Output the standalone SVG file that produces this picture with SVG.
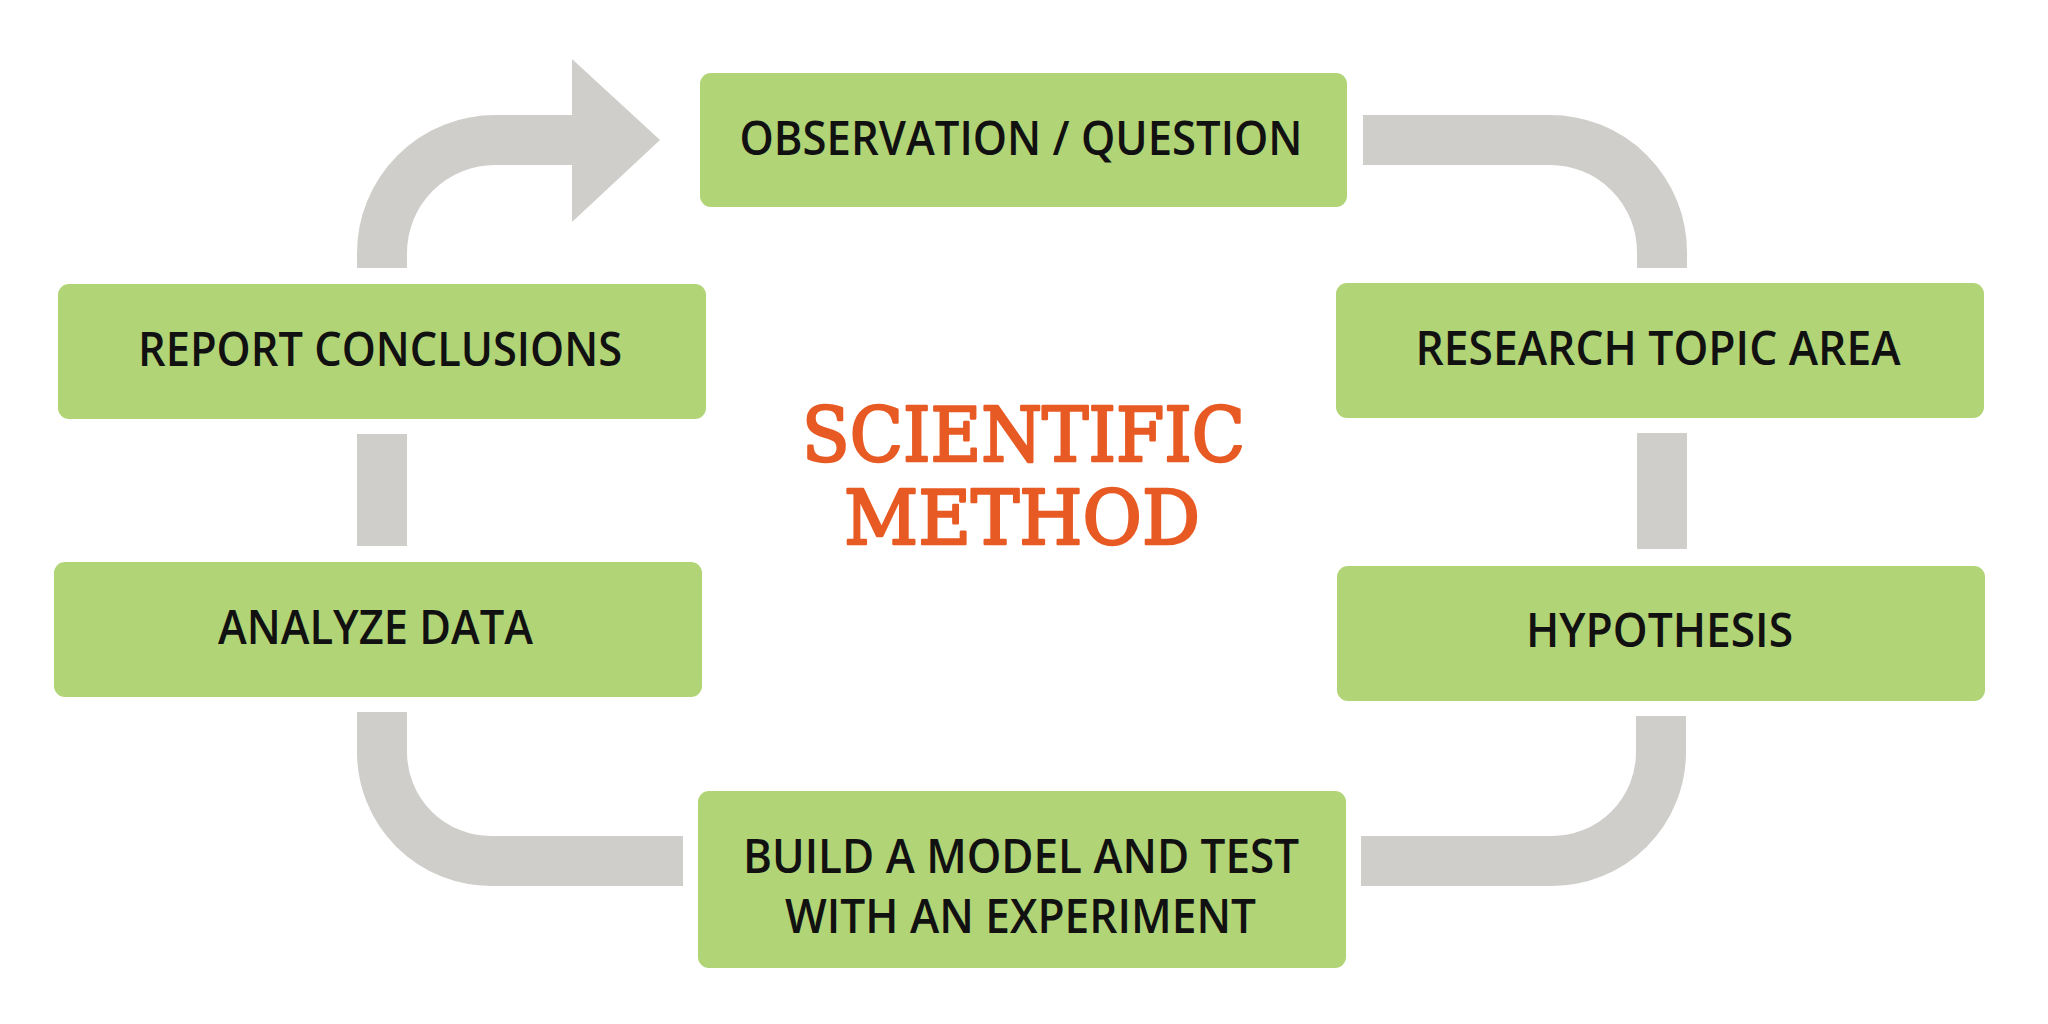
<svg xmlns="http://www.w3.org/2000/svg" width="2048" height="1024" viewBox="0 0 2048 1024">
  <style>
    .box { fill: #B1D476; }
    .lbl { font-family: "Open Sans", "Liberation Sans", sans-serif; font-weight: 600; font-size: 47px; fill: #111111; text-anchor: middle; }
    .conn { fill: none; stroke: #CFCECB; stroke-width: 50; stroke-linecap: butt; }
    .head { fill: #CFCECB; }
    .title { font-family: "DejaVu Serif", "Liberation Serif", serif; font-weight: normal; font-size: 74px; fill: #E85A24; stroke: #E85A24; stroke-width: 2.6; stroke-linejoin: round; text-anchor: middle; }
  </style>
  <rect width="2048" height="1024" fill="#FFFFFF"/>
  <g id="connectors">
    <path class="conn" d="M 382 268 V 253 A 113 113 0 0 1 495 140 H 574"/>
    <polygon class="head" points="572,59 660,140 572,222"/>
    <path class="conn" d="M 1363 140 H 1550 A 112 112 0 0 1 1662 252 V 268"/>
    <path class="conn" d="M 1662 433 V 549"/>
    <path class="conn" d="M 1661 716 V 752 A 109 109 0 0 1 1552 861 H 1361"/>
    <path class="conn" d="M 382 712 V 752 A 109 109 0 0 0 491 861 H 683"/>
    <path class="conn" d="M 382 434 V 546"/>
  </g>
  <g id="node-observation">
    <rect class="box" x="700" y="73" width="647" height="134" rx="11"/>
    <text class="lbl" x="1021" y="155" textLength="563" lengthAdjust="spacingAndGlyphs">OBSERVATION / QUESTION</text>
  </g>
  <g id="node-research">
    <rect class="box" x="1336" y="283" width="648" height="135" rx="11"/>
    <text class="lbl" x="1658" y="365" textLength="485" lengthAdjust="spacingAndGlyphs">RESEARCH TOPIC AREA</text>
  </g>
  <g id="node-hypothesis">
    <rect class="box" x="1337" y="566" width="648" height="135" rx="11"/>
    <text class="lbl" x="1659.5" y="647" textLength="267" lengthAdjust="spacingAndGlyphs">HYPOTHESIS</text>
  </g>
  <g id="node-build">
    <rect class="box" x="698" y="791" width="648" height="177" rx="11"/>
    <text class="lbl" x="1021" y="873" textLength="556" lengthAdjust="spacingAndGlyphs">BUILD A MODEL AND TEST</text>
    <text class="lbl" x="1020.5" y="933" textLength="471" lengthAdjust="spacingAndGlyphs">WITH AN EXPERIMENT</text>
  </g>
  <g id="node-analyze">
    <rect class="box" x="54" y="562" width="648" height="135" rx="11"/>
    <text class="lbl" x="375.5" y="644" textLength="315" lengthAdjust="spacingAndGlyphs">ANALYZE DATA</text>
  </g>
  <g id="node-report">
    <rect class="box" x="58" y="284" width="648" height="135" rx="11"/>
    <text class="lbl" x="380" y="366" textLength="484" lengthAdjust="spacingAndGlyphs">REPORT CONCLUSIONS</text>
  </g>
  <g id="title">
    <text class="title" x="1023.5" y="461" textLength="443" lengthAdjust="spacingAndGlyphs">SCIENTIFIC</text>
    <text class="title" x="1022" y="544" textLength="356" lengthAdjust="spacingAndGlyphs">METHOD</text>
  </g>
</svg>
